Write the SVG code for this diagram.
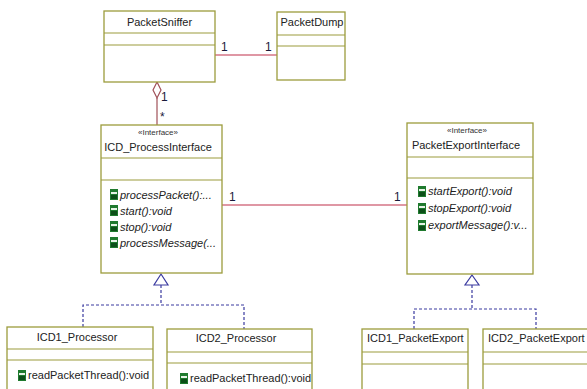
<svg xmlns="http://www.w3.org/2000/svg" width="587" height="389" viewBox="0 0 587 389">
  <style>
    .box { fill: #ffffff; stroke: #9c9c3c; stroke-width: 1.3; }
    .div { stroke: #9c9c3c; stroke-width: 1.1; fill: none; }
    .name { font-family: "Liberation Sans", Arial, sans-serif; font-size: 11px; fill: #222222; }
    .stereo { font-family: "Liberation Sans", Arial, sans-serif; font-size: 8px; fill: #333333; }
    .op { font-family: "Liberation Sans", Arial, sans-serif; font-size: 11px; fill: #222222; font-style: italic; }
    .opn { font-family: "Liberation Sans", Arial, sans-serif; font-size: 11px; fill: #222222; }
    .mult { font-family: "Liberation Sans", Arial, sans-serif; font-size: 12px; fill: #1a1a3a; }
    .assoc { stroke: #c0304a; stroke-width: 1.2; fill: none; }
    .aggr { stroke: #a05058; stroke-width: 1.2; fill: none; }
    .real { stroke: #3a3aa0; stroke-width: 1.2; fill: none; stroke-dasharray: 3 2; }
    .tri { fill: #ffffff; stroke: #3a3aa0; stroke-width: 1.2; }
  </style>
  <defs>
    <g id="opIcon">
      <rect x="0" y="0" width="8" height="11" fill="#1f7a2e"/>
      <rect x="1" y="3" width="6" height="2" fill="#e6f3e6"/>
      <rect x="1" y="6" width="6" height="4" fill="#0c4f18"/>
    </g>
  </defs>

  <rect width="587" height="389" fill="#ffffff"/>

  <!-- connectors -->
  <g id="connectors">
    <line class="assoc" x1="215" y1="55" x2="277" y2="55"/>
    <text class="mult" x="221" y="51">1</text>
    <text class="mult" x="265" y="51">1</text>

    <line class="aggr" x1="157" y1="98" x2="157" y2="125"/>
    <polygon points="157,82 161,90 157,98 153,90" fill="#ffffff" stroke="#a05058" stroke-width="1.2"/>
    <text class="mult" x="161" y="101">1</text>
    <text class="mult" x="160" y="121">*</text>

    <line class="assoc" x1="222" y1="205" x2="407" y2="205"/>
    <text class="mult" x="229" y="201">1</text>
    <text class="mult" x="394" y="201">1</text>

    <polyline class="real" points="161,285 161,305"/>
    <polyline class="real" points="83,327 83,305 244,305 244,329"/>
    <polygon class="tri" points="161,274 168,285 154,285"/>

    <polyline class="real" points="472,285 472,309"/>
    <polyline class="real" points="414,329 414,309 536,309 536,329"/>
    <polygon class="tri" points="472,275 479,285 465,285"/>
  </g>

  <g id="PacketSniffer">
    <rect class="box" x="104" y="11" width="111" height="71"/>
    <line class="div" x1="104" y1="33" x2="215" y2="33"/>
    <line class="div" x1="104" y1="45" x2="215" y2="45"/>
    <text class="name" x="159.5" y="26" text-anchor="middle">PacketSniffer</text>
  </g>

  <g id="PacketDump">
    <rect class="box" x="277" y="12" width="68" height="68"/>
    <line class="div" x1="277" y1="35" x2="345" y2="35"/>
    <line class="div" x1="277" y1="46" x2="345" y2="46"/>
    <text class="name" x="312" y="26" text-anchor="middle">PacketDump</text>
  </g>

  <g id="ICD_ProcessInterface">
    <rect class="box" x="101" y="125" width="121" height="148"/>
    <text class="stereo" x="158" y="135" text-anchor="middle">«Interface»</text>
    <text class="name" x="158" y="151" text-anchor="middle">ICD_ProcessInterface</text>
    <line class="div" x1="101" y1="158" x2="222" y2="158"/>
    <line class="div" x1="101" y1="180" x2="222" y2="180"/>
    <use href="#opIcon" x="110" y="189"/>
    <text class="op" x="120" y="199">processPacket():...</text>
    <use href="#opIcon" x="110" y="205"/>
    <text class="op" x="120" y="215">start():void</text>
    <use href="#opIcon" x="110" y="221"/>
    <text class="op" x="120" y="231">stop():void</text>
    <use href="#opIcon" x="110" y="237"/>
    <text class="op" x="120" y="247">processMessage(...</text>
  </g>

  <g id="PacketExportInterface">
    <rect class="box" x="407" y="123" width="126" height="151"/>
    <text class="stereo" x="467" y="133" text-anchor="middle">«Interface»</text>
    <text class="name" x="466" y="149" text-anchor="middle">PacketExportInterface</text>
    <line class="div" x1="407" y1="157" x2="533" y2="157"/>
    <line class="div" x1="407" y1="178" x2="533" y2="178"/>
    <use href="#opIcon" x="418" y="186"/>
    <text class="op" x="428" y="195">startExport():void</text>
    <use href="#opIcon" x="418" y="203"/>
    <text class="op" x="428" y="212">stopExport():void</text>
    <use href="#opIcon" x="418" y="220"/>
    <text class="op" x="428" y="229">exportMessage():v...</text>
  </g>

  <g id="ICD1_Processor">
    <rect class="box" x="7" y="327" width="146" height="70"/>
    <text class="name" x="77" y="341" text-anchor="middle">ICD1_Processor</text>
    <line class="div" x1="7" y1="349" x2="153" y2="349"/>
    <line class="div" x1="7" y1="360" x2="153" y2="360"/>
    <use href="#opIcon" x="18" y="370"/>
    <text class="opn" x="28" y="379">readPacketThread():void</text>
  </g>

  <g id="ICD2_Processor">
    <rect class="box" x="167" y="329" width="145" height="70"/>
    <text class="name" x="236" y="342" text-anchor="middle">ICD2_Processor</text>
    <line class="div" x1="167" y1="352" x2="312" y2="352"/>
    <line class="div" x1="167" y1="363" x2="312" y2="363"/>
    <use href="#opIcon" x="180" y="373"/>
    <text class="opn" x="190" y="382">readPacketThread():void</text>
  </g>

  <g id="ICD1_PacketExport">
    <rect class="box" x="362" y="329" width="106" height="70"/>
    <text class="name" x="367" y="342">ICD1_PacketExport</text>
    <line class="div" x1="362" y1="352" x2="468" y2="352"/>
    <line class="div" x1="362" y1="364" x2="468" y2="364"/>
  </g>

  <g id="ICD2_PacketExport">
    <rect class="box" x="483" y="329" width="110" height="70"/>
    <text class="name" x="488" y="342">ICD2_PacketExport</text>
    <line class="div" x1="483" y1="352" x2="593" y2="352"/>
    <line class="div" x1="483" y1="364" x2="593" y2="364"/>
  </g>
</svg>
